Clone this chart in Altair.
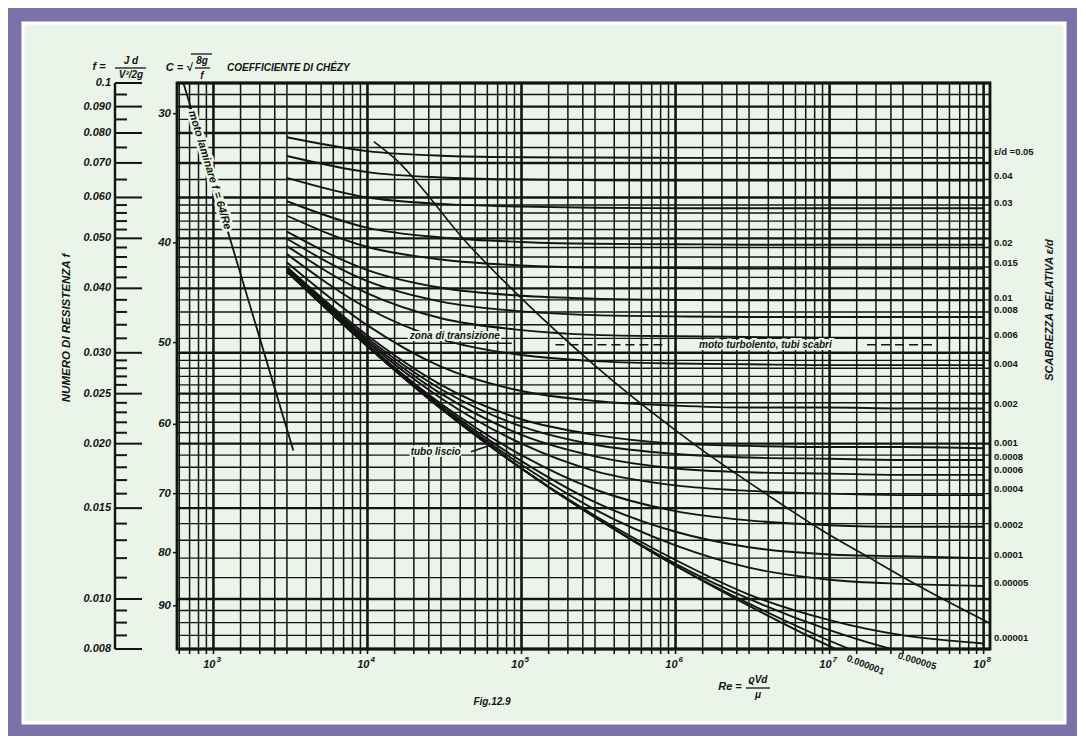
import altair as alt
import pandas as pd

# ---------------- data ----------------
RE_POINTS = [3000, 10000, 30000, 100000, 300000, 1000000, 3000000, 10000000, 30000000, 100000000]

f_0_05 = [0.0785, 0.0738, 0.0723, 0.0718, 0.0717, 0.0716, 0.0716, 0.0716, 0.0716, 0.0716]
f_0_04 = [0.0722, 0.0672, 0.0656, 0.0650, 0.0648, 0.0647, 0.0647, 0.0647, 0.0647, 0.0647]
f_0_03 = [0.0655, 0.0600, 0.0583, 0.0576, 0.0573, 0.0572, 0.0572, 0.0572, 0.0572, 0.0572]
f_0_02 = [0.0590, 0.0524, 0.0502, 0.0492, 0.0488, 0.0487, 0.0486, 0.0486, 0.0486, 0.0486]
f_0_015 = [0.0553, 0.0481, 0.0455, 0.0443, 0.0439, 0.0438, 0.0437, 0.0437, 0.0437, 0.0437]
f_0_01 = [0.0515, 0.0434, 0.0401, 0.0387, 0.0382, 0.0380, 0.0379, 0.0379, 0.0379, 0.0379]
f_0_008 = [0.0499, 0.0413, 0.0377, 0.0361, 0.0355, 0.0353, 0.0352, 0.0352, 0.0352, 0.0352]
f_0_006 = [0.0483, 0.0391, 0.0350, 0.0332, 0.0325, 0.0323, 0.0322, 0.0321, 0.0321, 0.0321]
f_0_004 = [0.0466, 0.0366, 0.0319, 0.0297, 0.0289, 0.0286, 0.0285, 0.0284, 0.0284, 0.0284]
f_0_002 = [0.0449, 0.0339, 0.0282, 0.0253, 0.0242, 0.0237, 0.0235, 0.0235, 0.0234, 0.0234]
f_0_001 = [0.0440, 0.0324, 0.0260, 0.0223, 0.0208, 0.0200, 0.0198, 0.0197, 0.0197, 0.0196]
f_0_0008 = [0.0438, 0.0320, 0.0255, 0.0216, 0.0199, 0.0191, 0.0188, 0.0187, 0.0186, 0.0186]
f_0_0006 = [0.0437, 0.0317, 0.0250, 0.0208, 0.0189, 0.0179, 0.0176, 0.0175, 0.0174, 0.0174]
f_0_0004 = [0.0435, 0.0314, 0.0245, 0.0200, 0.0177, 0.0166, 0.0162, 0.0160, 0.0159, 0.0159]
f_0_0002 = [0.0433, 0.0311, 0.0239, 0.0190, 0.0163, 0.0148, 0.0142, 0.0139, 0.0138, 0.0138]
f_0_0001 = [0.0432, 0.0310, 0.0237, 0.0185, 0.0154, 0.0135, 0.0126, 0.0122, 0.0121, 0.0120]
f_0_00005 = [0.0432, 0.0309, 0.0235, 0.0182, 0.0149, 0.0127, 0.0115, 0.0109, 0.0107, 0.0106]
f_0_00001 = [0.0431, 0.0309, 0.0234, 0.0179, 0.0145, 0.0119, 0.0102, 0.0091, 0.0085, 0.0082]
f_0_000005 = [0.0431, 0.0309, 0.0234, 0.0179, 0.0144, 0.0117, 0.0100, 0.0087, 0.0079, 0.0075]
f_0_000001 = [0.0431, 0.0309, 0.0234, 0.0179, 0.0144, 0.0116, 0.0098, 0.0083, 0.0073, 0.0065]
f_smooth = [0.0431, 0.0309, 0.0234, 0.0179, 0.0144, 0.0116, 0.0097, 0.0081, 0.0070, 0.0060]

CURVE_NAMES = ["0.05", "0.04", "0.03", "0.02", "0.015", "0.01", "0.008", "0.006", "0.004",
               "0.002", "0.001", "0.0008", "0.0006", "0.0004", "0.0002", "0.0001", "0.00005",
               "0.00001", "0.000005", "0.000001", "liscio"]
CURVE_VALUES = [f_0_05, f_0_04, f_0_03, f_0_02, f_0_015, f_0_01, f_0_008, f_0_006, f_0_004,
                f_0_002, f_0_001, f_0_0008, f_0_0006, f_0_0004, f_0_0002, f_0_0001, f_0_00005,
                f_0_00001, f_0_000005, f_0_000001, f_smooth]

RIGHT_LABELS = ["ε/d =0.05", "0.04", "0.03", "0.02", "0.015", "0.01", "0.008", "0.006", "0.004",
                "0.002", "0.001", "0.0008", "0.0006", "0.0004", "0.0002", "0.0001", "0.00005", "0.00001"]
RIGHT_LABEL_F = [0.0735, 0.0660, 0.0586, 0.0490, 0.0448, 0.0383, 0.0363, 0.0325, 0.0285,
                 0.0239, 0.0201, 0.01885, 0.0178, 0.01633, 0.0139, 0.01217, 0.01074, 0.0084]

BOTTOM_LABELS = ["0.000001", "0.000005"]
BOTTOM_LABEL_RE = [1.71e7, 3.7e7]
BOTTOM_LABEL_F = [0.00745, 0.00758]
BOTTOM_LABEL_ANGLE = [21, 17]

LAMINAR_RE = [620, 3300]
LAMINAR_F = [0.103, 0.0194]

BOUND_RE = [1.1e4, 1.49e4, 4.53e4, 1.03e5, 2.97e5, 6.53e5, 1.43e6, 3.97e6, 8.53e6, 1.83e7, 3.9e7, 1.1e8]
BOUND_F = [0.077, 0.0716, 0.0486, 0.0379, 0.0284, 0.0234, 0.0196, 0.0159, 0.0137, 0.0120, 0.01055, 0.00897]

TURB_SEG = ["a", "a", "b", "b"]
TURB_RE = [1.66e5, 8.5e5, 1.75e7, 5.0e7]
TURB_F = [0.0311, 0.0311, 0.0311, 0.0311]

RULER_MAJOR = [0.1, 0.09, 0.08, 0.07, 0.06, 0.05, 0.04, 0.03, 0.025, 0.02, 0.015, 0.01, 0.008]
RULER_MAJOR_TEXT = ["0.1", "0.090", "0.080", "0.070", "0.060", "0.050", "0.040", "0.030",
                    "0.025", "0.020", "0.015", "0.010", "0.008"]
RULER_MINOR = [0.095, 0.085, 0.075, 0.065, 0.058, 0.056, 0.054, 0.052, 0.048, 0.046, 0.044, 0.042,
               0.038, 0.036, 0.034, 0.032, 0.029, 0.028, 0.027, 0.026, 0.024, 0.023, 0.022, 0.021,
               0.019, 0.018, 0.017, 0.016, 0.014, 0.013, 0.012, 0.011, 0.0095, 0.009, 0.0085]

CHEZY_TEXT = ["30", "40", "50", "60", "70", "80", "90"]
CHEZY_F = [0.0872, 0.0490, 0.0314, 0.0218, 0.0160, 0.0123, 0.0097]

RE_DECADES = [1000, 10000, 100000, 1000000, 10000000, 100000000]
RE_DECADE_BASE = ["10", "10", "10", "10", "10", "10"]
RE_DECADE_EXP = ["3", "4", "5", "6", "7", "8"]
RE_MULTIPLIERS = [1.5, 2, 2.5, 3, 4, 5, 6, 7, 8, 9]
RE_LOW_LINES = [600, 700, 800, 900]

# ---------------- styling ----------------
PURPLE = "#7a72a9"
GREEN = "#eaf4e8"
INK = "#141414"
FONT = "Liberation Sans"
W, H = 813, 566

xs = alt.Scale(type="log", domain=[580, 1.1e8], nice=False)
ys = alt.Scale(type="log", domain=[0.008, 0.1], nice=False)


def X(field="Re"):
    return alt.X(f"{field}:Q", scale=xs, axis=None, title=None)


def Y(field="f"):
    return alt.Y(f"{field}:Q", scale=ys, axis=None, title=None)


one = pd.DataFrame({"k": [0]})
re_minor = RE_LOW_LINES + [int(m * d) for d in RE_DECADES[:-1] for m in RE_MULTIPLIERS]

layers = []

# background panel
layers.append(alt.Chart(one).mark_rect(fill=GREEN, stroke="white", strokeWidth=3).encode(
    x=alt.value(-154), x2=alt.value(888), y=alt.value(-60), y2=alt.value(640)))

# horizontal grid
layers.append(alt.Chart(pd.DataFrame({"f": RULER_MINOR})).mark_rule(color=INK, strokeWidth=1.4).encode(y=Y()))
layers.append(alt.Chart(pd.DataFrame({"f": RULER_MAJOR})).mark_rule(color=INK, strokeWidth=2.4).encode(y=Y()))

# vertical grid
layers.append(alt.Chart(pd.DataFrame({"Re": re_minor})).mark_rule(color=INK, strokeWidth=1.5).encode(x=X()))
layers.append(alt.Chart(pd.DataFrame({"Re": RE_DECADES})).mark_rule(color=INK, strokeWidth=2.6).encode(x=X()))

# plot frame
layers.append(alt.Chart(one).mark_rect(fill=None, stroke=INK, strokeWidth=2.8).encode(
    x=alt.value(0), x2=alt.value(W), y=alt.value(0), y2=alt.value(H)))

# x-axis ticks and labels (10 with superscript exponent)
layers.append(alt.Chart(pd.DataFrame({"Re": re_minor + RE_DECADES})).mark_rule(color=INK, strokeWidth=1.6).encode(
    x=X(), y=alt.value(H), y2=alt.value(H + 5)))
dec_df = pd.DataFrame({"Re": RE_DECADES, "b": RE_DECADE_BASE, "e": RE_DECADE_EXP})
layers.append(alt.Chart(dec_df).mark_text(
    align="right", baseline="middle", font=FONT, fontSize=11, fontWeight="bold", fontStyle="italic",
    color=INK, dx=2).encode(x=X(), y=alt.value(H + 16), text="b:N"))
layers.append(alt.Chart(dec_df).mark_text(
    align="left", baseline="middle", font=FONT, fontSize=8, fontWeight="bold", fontStyle="italic",
    color=INK, dx=3).encode(x=X(), y=alt.value(H + 11), text="e:N"))

# curves
rows = [{"Re": r, "f": v, "eps": name}
        for name, vals in zip(CURVE_NAMES, CURVE_VALUES) for r, v in zip(RE_POINTS, vals)]
curve_df = pd.DataFrame(rows)
layers.append(alt.Chart(curve_df).mark_line(color=INK, strokeWidth=1.9, clip=True, interpolate="monotone").encode(
    x=X(), y=Y(), detail="eps:N"))

# laminar line
layers.append(alt.Chart(pd.DataFrame({"Re": LAMINAR_RE, "f": LAMINAR_F})).mark_line(
    color=INK, strokeWidth=1.8, clip=True).encode(x=X(), y=Y()))

# transition boundary
layers.append(alt.Chart(pd.DataFrame({"Re": BOUND_RE, "f": BOUND_F})).mark_line(
    color=INK, strokeWidth=1.6, clip=True, interpolate="monotone").encode(x=X(), y=Y()))

# dashed guide for fully rough regime
layers.append(alt.Chart(pd.DataFrame({"Re": TURB_RE, "f": TURB_F, "s": TURB_SEG})).mark_line(
    color=INK, strokeWidth=1.6, strokeDash=[9, 5]).encode(x=X(), y=Y(), detail="s:N"))

# left ruler: line, ticks pointing right, labels
layers.append(alt.Chart(pd.DataFrame({"f": [RULER_MAJOR[0]], "f2": [RULER_MAJOR[-1]]})).mark_rule(
    color=INK, strokeWidth=2.4).encode(y=Y(), y2="f2:Q", x=alt.value(-62)))
layers.append(alt.Chart(pd.DataFrame({"f": RULER_MAJOR})).mark_rule(color=INK, strokeWidth=2).encode(
    y=Y(), x=alt.value(-62), x2=alt.value(-35)))
layers.append(alt.Chart(pd.DataFrame({"f": RULER_MINOR})).mark_rule(color=INK, strokeWidth=2).encode(
    y=Y(), x=alt.value(-62), x2=alt.value(-50)))
layers.append(alt.Chart(pd.DataFrame({"f": RULER_MAJOR, "t": RULER_MAJOR_TEXT})).mark_text(
    align="right", baseline="middle", font=FONT, fontSize=11, fontWeight="bold", fontStyle="italic",
    color=INK).encode(y=Y(), x=alt.value(-66), text="t:N"))

# Chezy scale
chezy_df = pd.DataFrame({"f": CHEZY_F, "t": CHEZY_TEXT})
layers.append(alt.Chart(chezy_df).mark_rule(color=INK, strokeWidth=1.5).encode(
    y=Y(), x=alt.value(-4), x2=alt.value(0)))
layers.append(alt.Chart(chezy_df).mark_text(align="right", baseline="middle", font=FONT, fontSize=11.5,
                                            fontWeight="bold", fontStyle="italic", color=INK, dx=-6).encode(
    y=Y(), x=alt.value(0), text="t:N"))

# right-hand roughness labels
layers.append(alt.Chart(pd.DataFrame({"f": RIGHT_LABEL_F, "t": RIGHT_LABELS})).mark_text(
    align="left", baseline="middle", font=FONT, fontSize=9.5, fontWeight="bold", color=INK).encode(
    y=Y(), x=alt.value(W + 4), text="t:N"))

# bottom rotated curve labels
for t, r, fv, a in zip(BOTTOM_LABELS, BOTTOM_LABEL_RE, BOTTOM_LABEL_F, BOTTOM_LABEL_ANGLE):
    layers.append(alt.Chart(pd.DataFrame({"Re": [r], "f": [fv], "t": [t]})).mark_text(
        angle=a, font=FONT, fontSize=9.5, fontWeight="bold", color=INK).encode(x=X(), y=Y(), text="t:N"))


def annotate(re, f, text, size=10, angle=0, halo=4):
    df = pd.DataFrame({"Re": [re], "f": [f], "t": [text]})
    common = dict(angle=angle, font=FONT, fontSize=size, fontWeight="bold", fontStyle="italic")
    return [
        alt.Chart(df).mark_text(color=GREEN, stroke=GREEN, strokeWidth=halo, **common).encode(
            x=X(), y=Y(), text="t:N"),
        alt.Chart(df).mark_text(color=INK, **common).encode(x=X(), y=Y(), text="t:N"),
    ]


layers += annotate(944, 0.0678, "moto laminare  f = 64/Re", size=11, angle=73, halo=5)
layers += annotate(3.69e4, 0.0324, "zona di transizione", size=10)
layers += annotate(3.83e6, 0.0311, "moto turbolento,  tubi scabri", size=10)
layers += annotate(2.77e4, 0.0193, "tubo liscio", size=10)

# underline of "zona di transizione" and arrow of "tubo liscio"
layers.append(alt.Chart(pd.DataFrame({"Re": [1.57e4], "Re2": [8.65e4], "f": [0.0313]})).mark_rule(
    color=INK, strokeWidth=1.6).encode(x=X(), x2="Re2:Q", y=Y()))
layers.append(alt.Chart(pd.DataFrame({"Re": [4.7e4, 6.4e4], "f": [0.0193, 0.0199]})).mark_line(
    color=INK, strokeWidth=1.6).encode(x=X(), y=Y()))


def ptext(x, y, text, size=10, align="center", angle=0, weight="bold", style="italic"):
    return alt.Chart(one).mark_text(text=text, align=align, baseline="middle", angle=angle, font=FONT,
                                    fontSize=size, fontWeight=weight, fontStyle=style, color=INK).encode(
        x=alt.value(x), y=alt.value(y))


def prule(x1, x2, y, w=1.3):
    return alt.Chart(one).mark_rule(color=INK, strokeWidth=w).encode(
        x=alt.value(x1), x2=alt.value(x2), y=alt.value(y))


# formula f = J d / (V^2/2g)
layers += [ptext(-78, -16, "f =", 11), ptext(-46, -22, "J d", 10), ptext(-46, -8, "V²/2g", 10),
           prule(-62, -31, -15)]
# Chezy formula and title
layers += [ptext(2, -15, "C = √", 11), ptext(25, -22, "8g", 10), ptext(25, -7, "f", 10),
           prule(18, 33, -15), prule(14, 35, -29), ptext(50, -15, "COEFFICIENTE DI CHÉZY", 10, align="left")]
# axis titles
layers.append(ptext(-110, 245, "NUMERO DI RESISTENZA  f", 11.5, angle=270))
layers.append(ptext(873, 227, "SCABREZZA  RELATIVA  ε/d", 11, angle=270))
# Reynolds formula and figure caption
layers += [ptext(553, 604, "Re =", 11), ptext(581, 597, "ϱVd", 10), ptext(581, 612, "μ", 10),
           prule(569, 593, 605)]
layers.append(ptext(315, 619, "Fig.12.9", 10))

chart = alt.layer(*layers).properties(
    width=W, height=H, background=PURPLE,
    autosize=alt.AutoSizeParams(type="none"),
    padding={"left": 169, "top": 75, "right": 87, "bottom": 87},
).configure_view(stroke=None)

chart.save("out.html", embed_options={"renderer": "svg", "actions": False})
